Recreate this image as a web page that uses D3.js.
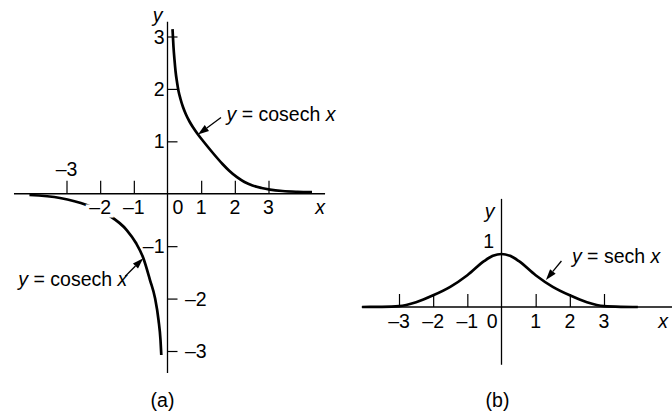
<!DOCTYPE html>
<html>
<head>
<meta charset="utf-8">
<script src="https://cdn.jsdelivr.net/npm/d3@7"></script>
<style>
  html, body { margin: 0; padding: 0; background: #fff; }
  svg { display: block; font-family: "Liberation Sans", Arial, Helvetica, sans-serif; }
</style>
</head>
<body>
<svg id="chart" width="672" height="412"></svg>
<script>
// ---- Panel (a): y = cosech x (two branches) ----
const cosechPosX = [0.149, 0.178, 0.208, 0.238, 0.282, 0.327, 0.386, 0.460, 0.549, 0.653, 0.772, 0.906,
                    1.069, 1.336, 1.634, 1.841, 2.064, 2.287, 2.524, 2.792, 3.044, 3.415, 3.861, 4.292];
const cosechPosY = [3.140, 2.800, 2.552, 2.342, 2.132, 1.960, 1.808, 1.655, 1.512, 1.378, 1.254, 1.130,
                    0.997, 0.787, 0.568, 0.434, 0.316, 0.224, 0.157, 0.110, 0.079, 0.052, 0.037, 0.030];
const cosechNegX = [-4.10, -3.193, -2.402, -1.758, -1.212, -0.936, -0.719, -0.520, -0.371, -0.267, -0.208, -0.184];
const cosechNegY = [-0.024, -0.081, -0.215, -0.405, -0.692, -0.940, -1.226, -1.646, -1.989, -2.409, -2.790, -3.076];

// ---- Panel (b): y = sech x ----
const sechX = [-4.08, -3.5, -3, -2.5, -2, -1.5, -1, -0.5, -0.25, 0, 0.25, 0.5, 1, 1.5, 2, 2.5, 3, 3.5, 3.99];
const sechY = [0, 0.003, 0.015, 0.09, 0.22, 0.38, 0.60, 0.87, 0.965, 1.0, 0.965, 0.87, 0.60, 0.38, 0.22, 0.09, 0.015, 0.003, 0];

// ---- Ticks and labels ----
const aXTicks = [-3, -2, -1, 1, 2, 3];
const aXLabels = [-3, -2, -1, 0, 1, 2, 3];
const aYTicks = [3, 2, 1, -1, -2, -3];
const bXTicks = [-3, -2, -1, 1, 2, 3];
const bXLabels = [-3, -2, -1, 0, 1, 2, 3];
const bYLabels = [1];

const fmt = v => (v < 0 ? "\u2013" + Math.abs(v) : String(v));
const FS = 19.5;

const svg = d3.select("#chart");

// Scales
const xA = d3.scaleLinear().domain([-3, 3]).range([66.5, 268.5]);
const yA = d3.scaleLinear().domain([-3, 3]).range([351, 36.5]);
const xB = d3.scaleLinear().domain([-3, 3]).range([399, 604]);
const yB = d3.scaleLinear().domain([0, 1]).range([307, 254]);

const zip = (xs, ys) => xs.map((x, i) => [x, ys[i]]);

function lineGen(xs, ys) {
  return d3.line().x(d => xs(d[0])).y(d => ys(d[1])).curve(d3.curveMonotoneX);
}

function arrow(g, x1, y1, x2, y2) {
  // shaft from (x1,y1) to the tip (x2,y2) with a filled head
  const ang = Math.atan2(y2 - y1, x2 - x1);
  const L = 11, W = 3.6;
  const bx = x2 - L * Math.cos(ang), by = y2 - L * Math.sin(ang);
  g.append("line").attr("x1", x1).attr("y1", y1).attr("x2", bx).attr("y2", by)
    .attr("stroke", "#000").attr("stroke-width", 1.3);
  const px = -Math.sin(ang) * W, py = Math.cos(ang) * W;
  g.append("path")
    .attr("d", `M${x2},${y2}L${bx + px},${by + py}L${bx - px},${by - py}Z`)
    .attr("fill", "#000");
}

function eqLabel(g, x, y, word, anchor) {
  const t = g.append("text").attr("x", x).attr("y", y).attr("font-size", FS)
    .attr("text-anchor", anchor || "start").attr("fill", "#000");
  t.append("tspan").attr("font-style", "italic").text("y");
  t.append("tspan").text(" = " + word + " ");
  t.append("tspan").attr("font-style", "italic").text("x");
}

// ================= Panel (a) =================
const gA = svg.append("g");

const aXExt = [-4.56, 4.68], aYExt = [-3.42, 3.28];
gA.append("line")
  .attr("x1", xA(aXExt[0])).attr("x2", xA(aXExt[1]))
  .attr("y1", yA(0)).attr("y2", yA(0))
  .attr("stroke", "#000").attr("stroke-width", 1.3);
gA.append("line")
  .attr("x1", xA(0)).attr("x2", xA(0))
  .attr("y1", yA(aYExt[0])).attr("y2", yA(aYExt[1]))
  .attr("stroke", "#000").attr("stroke-width", 1.3);

// x ticks (upward)
const aXAxis = gA.append("g").attr("transform", `translate(0,${yA(0)})`)
  .call(d3.axisTop(xA).tickValues(aXTicks).tickSize(13).tickFormat(""));
aXAxis.select(".domain").remove();
aXAxis.selectAll(".tick line").attr("stroke-width", 1.2);

// y ticks (rightward)
const aYAxis = gA.append("g").attr("transform", `translate(${xA(0)},0)`)
  .call(d3.axisRight(yA).tickValues(aYTicks).tickSize(10).tickFormat(""));
aYAxis.select(".domain").remove();
aYAxis.selectAll(".tick line").attr("stroke-width", 1.2);

// curves
gA.append("path").datum(zip(cosechPosX, cosechPosY))
  .attr("d", lineGen(xA, yA)).attr("fill", "none").attr("stroke", "#000").attr("stroke-width", 2.7);
gA.append("path").datum(zip(cosechNegX, cosechNegY))
  .attr("d", lineGen(xA, yA)).attr("fill", "none").attr("stroke", "#000").attr("stroke-width", 2.7);

// x tick labels (white halo breaks the curve under "–2")
gA.selectAll("text.xl").data(aXLabels).enter().append("text")
  .attr("class", "xl")
  .attr("x", d => d === 0 ? xA(0) + 5 : xA(d))
  .attr("y", d => d === -3 ? yA(0) - 17.5 : yA(0) + 20)
  .attr("text-anchor", d => d === 0 ? "start" : "middle")
  .attr("font-size", FS)
  .attr("stroke", "#fff").attr("stroke-width", 7).attr("paint-order", "stroke")
  .attr("fill", "#000")
  .text(fmt);

// y tick labels
gA.selectAll("text.yl").data(aYTicks).enter().append("text")
  .attr("class", "yl")
  .attr("x", d => d >= -1 ? xA(0) - 3 : xA(0) + 17.5)
  .attr("y", d => yA(d) + 7)
  .attr("text-anchor", d => d >= -1 ? "end" : "start")
  .attr("font-size", FS).attr("fill", "#000")
  .text(fmt);

// axis names
gA.append("text").attr("x", xA(0) - 10).attr("y", 22).attr("text-anchor", "middle")
  .attr("font-size", FS).attr("font-style", "italic").text("y");
gA.append("text").attr("x", xA(aXExt[1]) - 5).attr("y", yA(0) + 20).attr("text-anchor", "middle")
  .attr("font-size", FS).attr("font-style", "italic").text("x");

// annotations
{
  const tx = xA(0.906), ty = yA(1.13);
  arrow(gA, tx + 23, ty - 17, tx, ty);
  eqLabel(gA, tx + 28.5, ty - 13.5, "cosech");
}
{
  const tx = xA(-0.72), ty = yA(-1.23);
  arrow(gA, tx - 18, ty + 18, tx, ty);
  eqLabel(gA, tx - 16, ty + 28, "cosech", "end");
}

// caption
gA.append("text").attr("x", 162.5).attr("y", 407).attr("text-anchor", "middle")
  .attr("font-size", FS).text("(a)");

// ================= Panel (b) =================
const gB = svg.append("g");
const bXExt = [-4.09, 4.99], bYExt = [-1.09, 2.04];

gB.append("line")
  .attr("x1", xB(bXExt[0])).attr("x2", xB(bXExt[1]))
  .attr("y1", yB(0)).attr("y2", yB(0))
  .attr("stroke", "#000").attr("stroke-width", 1.3);
gB.append("line")
  .attr("x1", xB(0)).attr("x2", xB(0))
  .attr("y1", yB(bYExt[0])).attr("y2", yB(bYExt[1]))
  .attr("stroke", "#000").attr("stroke-width", 1.3);

const bXAxis = gB.append("g").attr("transform", `translate(0,${yB(0)})`)
  .call(d3.axisTop(xB).tickValues(bXTicks).tickSize(13).tickFormat(""));
bXAxis.select(".domain").remove();
bXAxis.selectAll(".tick line").attr("stroke-width", 1.2);

gB.append("path").datum(zip(sechX, sechY))
  .attr("d", lineGen(xB, yB)).attr("fill", "none").attr("stroke", "#000").attr("stroke-width", 2.7);

gB.selectAll("text.xl").data(bXLabels).enter().append("text")
  .attr("class", "xl")
  .attr("x", d => d === 0 ? xB(0) - 4 : xB(d))
  .attr("y", yB(0) + 21)
  .attr("text-anchor", d => d === 0 ? "end" : "middle")
  .attr("font-size", FS).attr("fill", "#000")
  .text(fmt);

gB.selectAll("text.yl").data(bYLabels).enter().append("text")
  .attr("class", "yl")
  .attr("x", xB(0) - 7.5).attr("y", d => yB(d) - 6)
  .attr("text-anchor", "end")
  .attr("font-size", FS).attr("fill", "#000")
  .text(fmt);

gB.append("text").attr("x", xB(0) - 12).attr("y", 218).attr("text-anchor", "middle")
  .attr("font-size", FS).attr("font-style", "italic").text("y");
gB.append("text").attr("x", 663).attr("y", yB(0) + 21).attr("text-anchor", "middle")
  .attr("font-size", FS).attr("font-style", "italic").text("x");

{
  const tx = xB(1.30), ty = yB(0.51);
  arrow(gB, tx + 15.5, ty - 19, tx, ty);
  eqLabel(gB, tx + 26, ty - 16.5, "sech");
}

gB.append("text").attr("x", 497.5).attr("y", 407).attr("text-anchor", "middle")
  .attr("font-size", FS).text("(b)");
</script>
</body>
</html>
